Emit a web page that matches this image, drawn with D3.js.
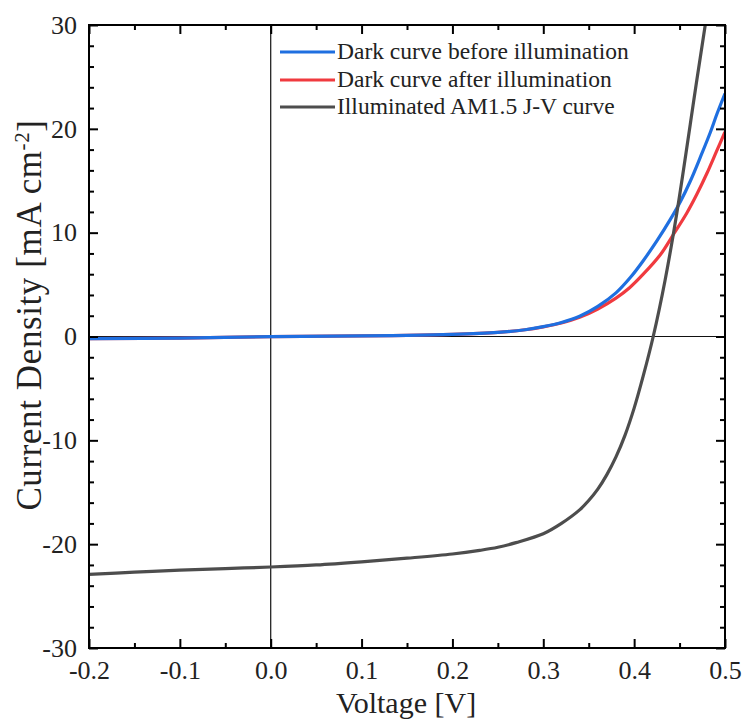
<!DOCTYPE html>
<html>
<head>
<meta charset="utf-8">
<script src="https://cdn.jsdelivr.net/npm/d3@7"></script>
<style>
  html, body { margin: 0; padding: 0; background: #fff; }
  svg { display: block; }
  text { font-family: "Liberation Serif", "Times New Roman", serif; fill: #222; }
</style>
</head>
<body>
<svg id="chart" width="745" height="722"></svg>
<script>
// J-V data: voltage [V], current density [mA cm^-2]
const darkBeforeV = [-0.2, -0.1, 0.0, 0.1, 0.15, 0.2, 0.25, 0.28, 0.30, 0.32, 0.34, 0.36, 0.38, 0.396, 0.41, 0.425, 0.44, 0.451, 0.462, 0.473, 0.484, 0.491, 0.5];
const darkBeforeJ = [-0.2, -0.15, -0.02, 0.06, 0.1, 0.2, 0.4, 0.65, 0.95, 1.35, 1.95, 2.9, 4.2, 5.7, 7.3, 9.2, 11.3, 13.0, 15.0, 17.3, 19.7, 21.4, 23.4];

const darkAfterV = [-0.2, -0.1, 0.0, 0.1, 0.15, 0.2, 0.25, 0.28, 0.30, 0.32, 0.34, 0.36, 0.38, 0.395, 0.41, 0.429, 0.443, 0.458, 0.469, 0.48, 0.491, 0.5];
const darkAfterJ = [-0.2, -0.15, -0.02, 0.06, 0.1, 0.2, 0.4, 0.65, 0.93, 1.3, 1.85, 2.65, 3.7, 4.7, 6.0, 7.9, 9.8, 11.9, 13.7, 15.7, 17.9, 19.7];

const illumV = [-0.2, -0.15, -0.1, -0.05, 0.0, 0.05, 0.1, 0.15, 0.2, 0.23, 0.25, 0.27, 0.30, 0.32, 0.34, 0.35, 0.36, 0.37, 0.38, 0.39, 0.40, 0.41, 0.421, 0.434, 0.447, 0.469, 0.48];
const illumJ = [-22.9, -22.7, -22.5, -22.35, -22.2, -22.0, -21.7, -21.35, -20.95, -20.6, -20.3, -19.85, -19.0, -18.0, -16.7, -15.8, -14.7, -13.3, -11.6, -9.5, -6.9, -3.8, 0.0, 5.4, 11.9, 24.7, 31.0];

const seriesNames = ["Dark curve before illumination", "Dark curve after illumination", "Illuminated AM1.5 J-V curve"];
const seriesColors = ["#1f6fe0", "#f03a3f", "#4d4d4d"];

const xMajorTicks = [-0.2, -0.1, 0.0, 0.1, 0.2, 0.3, 0.4, 0.5];
const xMinorTicks = [-0.15, -0.05, 0.05, 0.15, 0.25, 0.35, 0.45];
const yMajorTicks = [-30, -20, -10, 0, 10, 20, 30];
const yMinorTicks = [-28, -26, -24, -22, -18, -16, -14, -12, -8, -6, -4, -2, 2, 4, 6, 8, 12, 14, 16, 18, 22, 24, 26, 28];

const svg = d3.select("#chart");
const plotLeft = 89, plotRight = 725, plotTop = 25, plotBottom = 648;

const x = d3.scaleLinear().domain([-0.2, 0.5]).range([plotLeft, plotRight]);
const y = d3.scaleLinear().domain([-30, 30]).range([plotBottom, plotTop]);

svg.append("defs").append("clipPath").attr("id", "plotClip")
  .append("rect").attr("x", plotLeft).attr("y", plotTop)
  .attr("width", plotRight - plotLeft).attr("height", plotBottom - plotTop);

// zero reference lines
svg.append("line").attr("x1", plotLeft).attr("x2", plotRight).attr("y1", y(0)).attr("y2", y(0))
  .attr("stroke", "#111").attr("stroke-width", 1.2);
svg.append("line").attr("x1", x(0)).attr("x2", x(0)).attr("y1", plotTop).attr("y2", plotBottom)
  .attr("stroke", "#111").attr("stroke-width", 1.2);

const line = d3.line().x(d => x(d[0])).y(d => y(d[1])).curve(d3.curveCatmullRom.alpha(0.5));
const series = [
  d3.zip(darkBeforeV, darkBeforeJ),
  d3.zip(darkAfterV, darkAfterJ),
  d3.zip(illumV, illumJ)
];

const plot = svg.append("g").attr("clip-path", "url(#plotClip)");
// after-illumination first so the before curve sits on top, then the illuminated curve
[1, 0, 2].forEach(i => {
  plot.append("path").datum(series[i])
    .attr("fill", "none").attr("stroke", seriesColors[i])
    .attr("stroke-width", 3.2).attr("stroke-linejoin", "round")
    .attr("d", line);
});

// axes with inward ticks
function styleAxis(g) {
  g.selectAll(".domain").remove();
  g.selectAll(".tick line").attr("stroke", "#000").attr("stroke-width", 2);
  g.selectAll(".tick text").attr("fill", "#222")
    .style("font-family", "Liberation Serif, serif").style("font-size", "26px");
}

// plain hyphen for negative numbers
const fmtX = d => d3.format(".1f")(d).replace("\u2212", "-");
const fmtY = d => d3.format("d")(d).replace("\u2212", "-");

svg.append("g").attr("transform", `translate(0,${plotBottom})`)
  .call(d3.axisBottom(x).tickValues(xMajorTicks).tickFormat(fmtX).tickSize(-9).tickPadding(13))
  .call(styleAxis);
svg.append("g").attr("transform", `translate(0,${plotBottom})`)
  .call(d3.axisBottom(x).tickValues(xMinorTicks).tickFormat("").tickSize(-5))
  .call(styleAxis);
svg.append("g").attr("transform", `translate(0,${plotTop})`)
  .call(d3.axisTop(x).tickValues(xMajorTicks).tickFormat("").tickSize(-9))
  .call(styleAxis);
svg.append("g").attr("transform", `translate(0,${plotTop})`)
  .call(d3.axisTop(x).tickValues(xMinorTicks).tickFormat("").tickSize(-5))
  .call(styleAxis);

svg.append("g").attr("transform", `translate(${plotLeft},0)`)
  .call(d3.axisLeft(y).tickValues(yMajorTicks).tickFormat(fmtY).tickSize(-9).tickPadding(12))
  .call(styleAxis);
svg.append("g").attr("transform", `translate(${plotLeft},0)`)
  .call(d3.axisLeft(y).tickValues(yMinorTicks).tickFormat("").tickSize(-5))
  .call(styleAxis);
svg.append("g").attr("transform", `translate(${plotRight},0)`)
  .call(d3.axisRight(y).tickValues(yMajorTicks).tickFormat("").tickSize(-9))
  .call(styleAxis);
svg.append("g").attr("transform", `translate(${plotRight},0)`)
  .call(d3.axisRight(y).tickValues(yMinorTicks).tickFormat("").tickSize(-5))
  .call(styleAxis);

// frame
svg.append("rect").attr("x", plotLeft).attr("y", plotTop)
  .attr("width", plotRight - plotLeft).attr("height", plotBottom - plotTop)
  .attr("fill", "none").attr("stroke", "#000").attr("stroke-width", 2);

// axis titles
svg.append("text").attr("x", 406).attr("y", 713)
  .attr("text-anchor", "middle").style("font-size", "30px").text("Voltage [V]");

const yTitle = svg.append("text")
  .attr("transform", `translate(41,315) rotate(-90)`)
  .attr("text-anchor", "middle").style("font-size", "35px").style("letter-spacing", "0.6px");
yTitle.append("tspan").text("Current Density [mA cm");
yTitle.append("tspan").attr("dy", "-0.55em").style("font-size", "21px").text("-2");
yTitle.append("tspan").attr("dy", "0.35em").text("]");

// legend
const legend = svg.append("g");
const legendRows = [52, 80, 107];
seriesNames.forEach((name, i) => {
  legend.append("line").attr("x1", 280).attr("x2", 335)
    .attr("y1", legendRows[i]).attr("y2", legendRows[i])
    .attr("stroke", seriesColors[i]).attr("stroke-width", 3.2);
  legend.append("text").attr("x", 337).attr("y", legendRows[i] + 7)
    .style("font-size", "23.5px").text(name);
});
</script>
</body>
</html>
